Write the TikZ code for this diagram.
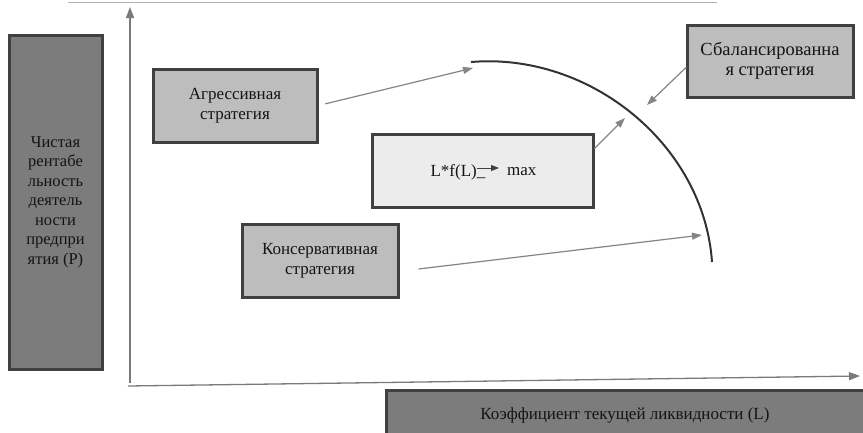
\documentclass[tikz,border=0pt]{standalone}
\usepackage{fontspec}
\setmainfont{Liberation Serif}
\usetikzlibrary{arrows.meta,calc}
\definecolor{darkbox}{HTML}{7C7C7C}
\definecolor{midbox}{HTML}{BDBDBD}
\definecolor{lightbox}{HTML}{ECECEC}
\definecolor{edgecol}{HTML}{404040}
\definecolor{arrcol}{HTML}{858585}
\definecolor{axcol}{HTML}{7A7A7A}
\definecolor{txtcol}{HTML}{141414}
\begin{document}
\begin{tikzpicture}[x=1pt,y=-1pt,
  boxstyle/.style={draw=edgecol, line width=3pt, align=center, text=txtcol, inner sep=0pt,
    font=\fontsize{17}{20}\selectfont},
  plain/.style={inner sep=0pt, text=txtcol, font=\fontsize{17}{20}\selectfont},
  arr/.style={draw=arrcol, line width=1.2pt, -{Triangle[length=10pt,width=7pt]}},
  axis/.style={draw=axcol, line width=1.3pt, -{Triangle[length=11pt,width=8pt]}},
  curvestyle/.style={draw=black!80, line width=2pt},
  topline/.style={draw=black!30, line width=1pt}]
\clip (0,0) rectangle (863,432);
\fill[white] (0,0) rectangle (863,432);

% top thin line
\coordinate (tl1) at (68,2.5);
\coordinate (tl2) at (717,2.5);
\draw[topline] (tl1) -- (tl2);

% left vertical label box
\node[boxstyle, fill=darkbox, minimum width=93pt, minimum height=334pt,
  font=\fontsize{16.5}{19.5}\selectfont] (prof) at (55.5,202)
  {Чистая\\рентабе\\льность\\деятель\\ности\\предпри\\ятия (Р)};

% bottom label box
\node[boxstyle, fill=darkbox, minimum width=478pt, minimum height=50pt] (liq) at (625,415)
  {Коэффициент текущей ликвидности (L)};

% axes
\coordinate (yb) at (130,383);
\coordinate (yt) at (130,7);
\coordinate (xl) at (128,386);
\coordinate (xr) at (860,376);
\draw[axis] (yb) -- (yt);
\draw[axis] (xl) -- (xr);

% strategy boxes
\node[boxstyle, fill=midbox, minimum width=164pt, minimum height=73pt] (agg) at (235,105.5)
  {Агрессивная\\стратегия};
\node[boxstyle, fill=lightbox, minimum width=221pt, minimum height=73pt] (lf) at (482.5,170.5) {};
\node[boxstyle, fill=midbox, minimum width=166pt, minimum height=72pt,
  font=\fontsize{18.5}{20}\selectfont] (bal) at (770,61)
  {Сбалансированна\\я стратегия};
\node[boxstyle, fill=midbox, minimum width=156pt, minimum height=73pt] (cons) at (320,260.5)
  {Консервативная\\стратегия};

% formula inside lf box
\node[plain, anchor=east] (lft) at (477,172) {L*f(L)\rlap{\_}};
\node[plain, anchor=west] (mx) at (507,172) {max};
\draw[draw=black!75, line width=1pt, -{Triangle[length=8pt,width=6pt]}]
  ([yshift=4pt]lft.east) -- ([yshift=4pt,xshift=-8pt]mx.west);

% efficient frontier curve
\coordinate (cs) at (471,62);
\coordinate (ce) at (712,262);
\draw[curvestyle] (cs) .. controls (590,52) and (704,145) .. (ce);

% arrows
\coordinate (aggend) at (473,68);
\coordinate (lfend) at (625,118);
\coordinate (balend) at (647,105);
\coordinate (consend) at (702,235);
\draw[arr, shorten <=7pt] (agg.east) -- (aggend);
\draw[arr] ($(lf.east)+(0,-22)$) -- (lfend);
\draw[arr] ($(bal.west)+(1,6)$) -- (balend);
\draw[arr] ($(cons.east)+(19,8.5)$) -- (consend);
\end{tikzpicture}
\end{document}
